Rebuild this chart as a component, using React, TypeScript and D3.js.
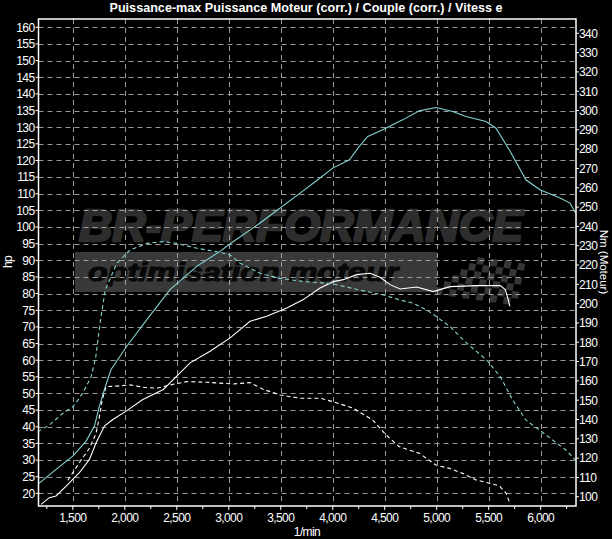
import * as d3 from 'd3'

const title = 'Puissance-max Puissance Moteur (corr.) / Couple (corr.) / Vitess e'
const rpmTicks = [1500, 2000, 2500, 3000, 3500, 4000, 4500, 5000, 5500, 6000]
const hpTicks = [20, 25, 30, 35, 40, 45, 50, 55, 60, 65, 70, 75, 80, 85, 90, 95, 100, 105, 110, 115, 120, 125, 130, 135, 140, 145, 150, 155, 160]
const nmTicks = [100, 110, 120, 130, 140, 150, 160, 170, 180, 190, 200, 210, 220, 230, 240, 250, 260, 270, 280, 290, 300, 310, 320, 330, 340]

// tuned power (hp) - cyan solid
const powerTuned: [number, number][] = [
  [1163, 22.7], [1339, 27.2], [1500, 31.2], [1628, 35.7], [1708, 40.2], [1756, 46.2],
  [1804, 51.2], [1868, 57.2], [2019, 64.2], [2212, 72.2], [2435, 81.2], [2692, 88.2],
  [2916, 92.7], [3010, 94.9], [3301, 101.2], [3686, 110.2], [3856, 114.2], [4000, 117.7],
  [4160, 120.2], [4250, 124], [4337, 127.2], [4481, 129.2], [4673, 132.2], [4833, 134.9],
  [4993, 135.9], [5154, 134.7], [5282, 133.2], [5474, 131.7], [5570, 129.7], [5698, 123.2],
  [5858, 114.2], [5993, 111.2], [6186, 108.7], [6282, 107.2], [6335, 104.2],
]

// tuned torque (Nm) - cyan dashed
const torqueTuned: [number, number][] = [
  [1163, 133.7], [1275, 137.2], [1404, 143.2], [1500, 146.6], [1563, 151], [1628, 157],
  [1676, 162.2], [1720, 172], [1762, 189.8], [1811, 207], [1923, 220.9], [2051, 227.8],
  [2212, 231.2], [2371, 232.1], [2500, 231.2], [2692, 228.7], [2885, 226.9], [3013, 225.2],
  [3109, 220.9], [3301, 215.7], [3493, 213.1], [3717, 211.5], [4006, 210.2], [4262, 207],
  [4487, 204.5], [4647, 201.9], [4775, 200.2], [4904, 196.7], [5000, 193.2], [5128, 188.1],
  [5288, 179.5], [5481, 170.8], [5611, 162.2], [5731, 150.1], [5859, 139.7], [5987, 134.6],
  [6115, 129.4], [6243, 124.2], [6335, 119],
]

// stock power (hp) - white solid
const powerStock: [number, number][] = [
  [1195, 16.7], [1275, 18.7], [1339, 19.2], [1436, 22.2], [1563, 26.2], [1660, 30.2],
  [1724, 35.2], [1804, 40.2], [1885, 42.2], [2013, 44.7], [2173, 48.2], [2371, 51.2],
  [2628, 59.2], [2820, 62.7], [3013, 66.7], [3205, 71.7], [3365, 73.2], [3558, 75.7],
  [3717, 78.2], [3878, 81.7], [4006, 83.6], [4102, 84.2], [4231, 85.7], [4359, 86.1],
  [4455, 84.9], [4551, 82.7], [4647, 81.4], [4808, 82], [4967, 80.6], [5128, 82.1],
  [5385, 82.4], [5611, 82.4], [5660, 81.2], [5688, 78.2], [5704, 76.2],
]

// stock torque (Nm) - white dashed
const torqueStock: [number, number][] = [
  [1452, 108.5], [1563, 117.7], [1660, 125.1], [1724, 132.9], [1756, 141.5], [1782, 150.1],
  [1820, 157], [1923, 157.3], [2051, 157.9], [2179, 156.7], [2308, 156.2], [2436, 157.9],
  [2596, 159.6], [2788, 159.3], [2948, 158.7], [3044, 158.4], [3205, 159.1], [3333, 155.6],
  [3493, 152.7], [3686, 151], [3878, 151], [4006, 149.2], [4198, 145.8], [4385, 139.7],
  [4513, 132], [4640, 125.9], [4833, 122.5], [4993, 116.4], [5121, 114.7], [5250, 112.1],
  [5378, 108.7], [5506, 107], [5602, 105.6], [5667, 101.9], [5698, 97.4],
]

const W = 612
const H = 539
const left = 38.5
const right = 576
const top = 19
const bottom = 506

const font = "'Liberation Sans', Arial, sans-serif"
const cyan = '#84d2d2'
const gridColor = '#9c9c9c'

export default function App() {
  const x = d3.scaleLinear().domain([1170, 6340]).range([left, right])
  const yL = d3.scaleLinear().domain([16.2, 162.5]).range([bottom, top])
  const yR = d3.scaleLinear().domain([95.2, 347.4]).range([bottom, top])
  const fmt = d3.format(',')

  const lineL = d3.line<[number, number]>().x(d => x(d[0])).y(d => yL(d[1]))
  const lineR = d3.line<[number, number]>().x(d => x(d[0])).y(d => yR(d[1]))

  const minor = d3.range(1250, 6340, 250).filter(v => v % 500 !== 0)

  // checkered flag of the watermark
  const flag: JSX.Element[] = []
  for (let r = 0; r < 6; r++) {
    for (let c = 0; c < 13; c++) {
      if ((r + c) % 2 === 0 && c > 4 - r) {
        flag.push(<rect key={`${r}-${c}`} x={c * 7} y={r * 7} width={7} height={7} fill="#363636" />)
      }
    }
  }

  return (
    <svg width={W} height={H} style={{ position: 'absolute', left: 0, top: 0, display: 'block' }}>
      <rect width={W} height={H} fill="#000" />
      <defs>
        <clipPath id="plot">
          <rect x={left} y={top} width={right - left} height={bottom - top} />
        </clipPath>
      </defs>

      {/* watermark */}
      <g fontFamily={font} fontStyle="italic" fontWeight="bold">
        <text x={79} y={241} fontSize={44} fill="#2d2d2d" stroke="#2d2d2d" strokeWidth={2.5} strokeLinejoin="round" textLength={444} lengthAdjust="spacingAndGlyphs">BR-PERFORMANCE</text>
        <rect x={75} y={252} width={362} height={40} fill="#393939" />
        <text x={88} y={281} fontSize={26} fill="#080808" stroke="#080808" strokeWidth={1.2} textLength={310} lengthAdjust="spacingAndGlyphs">optimisation moteur</text>
        <g transform="translate(437,251) skewX(-12) skewY(8)">{flag}</g>
      </g>

      {/* grid */}
      <g stroke={gridColor} strokeWidth={1} strokeDasharray="5,4">
        {hpTicks.map(v => (
          <line key={`h${v}`} x1={left} x2={right} y1={Math.round(yL(v)) + 0.5} y2={Math.round(yL(v)) + 0.5} />
        ))}
        {rpmTicks.map(v => (
          <line key={`v${v}`} x1={Math.round(x(v)) + 0.5} x2={Math.round(x(v)) + 0.5} y1={top} y2={bottom} />
        ))}
      </g>

      {/* curves */}
      <g clipPath="url(#plot)" fill="none" strokeWidth={1.1}>
        <path d={lineR(torqueStock) ?? ''} stroke="#fff" strokeDasharray="4,3" />
        <path d={lineL(powerStock) ?? ''} stroke="#fff" />
        <path d={lineR(torqueTuned) ?? ''} stroke={cyan} strokeDasharray="4,3" />
        <path d={lineL(powerTuned) ?? ''} stroke={cyan} />
      </g>

      {/* frame */}
      <rect x={left} y={top} width={right - left} height={bottom - top} fill="none" stroke="#fff" strokeWidth={1.5} />

      {/* axes */}
      <g fontFamily={font} fontSize={12} fill="#fff" stroke="none" letterSpacing={-0.6}>
        {hpTicks.map(v => (
          <g key={`lt${v}`}>
            <line x1={left - 3} x2={left} y1={yL(v)} y2={yL(v)} stroke="#fff" />
            <text x={left - 4} y={yL(v)} dy="0.36em" textAnchor="end">{v}</text>
          </g>
        ))}
        {nmTicks.map(v => (
          <g key={`rt${v}`}>
            <line x1={right} x2={right + 3} y1={yR(v)} y2={yR(v)} stroke="#fff" />
            <text x={right + 3} y={yR(v)} dy="0.36em">{v}</text>
          </g>
        ))}
        {rpmTicks.map(v => (
          <g key={`bt${v}`}>
            <line x1={x(v)} x2={x(v)} y1={bottom} y2={bottom + 4} stroke="#fff" />
            <text x={x(v)} y={522} textAnchor="middle">{fmt(v)}</text>
          </g>
        ))}
        {minor.map(v => (
          <line key={`m${v}`} x1={x(v)} x2={x(v)} y1={bottom} y2={bottom + 3} stroke="#fff" />
        ))}
        <text x={307} y={536} textAnchor="middle">1/min</text>
        <text transform="translate(12,262) rotate(-90)" textAnchor="middle">hp</text>
        <text transform="translate(600,262) rotate(90)" textAnchor="middle" fontSize={11.5} letterSpacing={0}>Nm (Moteur)</text>
      </g>

      <text x={306} y={12} textAnchor="middle" fontFamily={font} fontWeight="bold" fontSize={13} fill="#fff" textLength={393} lengthAdjust="spacingAndGlyphs">{title}</text>
    </svg>
  )
}
